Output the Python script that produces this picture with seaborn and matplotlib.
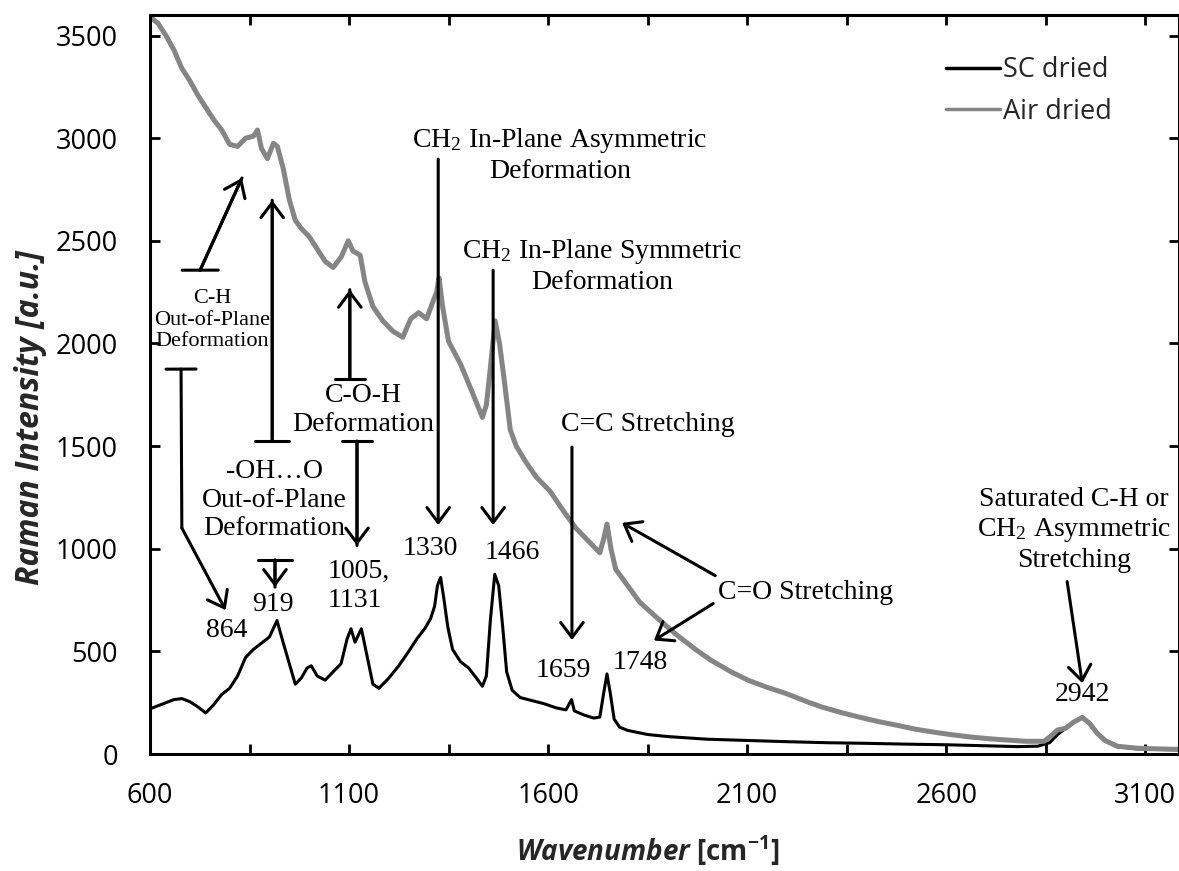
import matplotlib
matplotlib.use("Agg")
import matplotlib.pyplot as plt
import seaborn as sns
import pandas as pd
from matplotlib.ticker import FixedLocator

# ---------------- data ----------------
series_names = ["SC dried", "Air dried"]

sc_wavenumber = [600, 620, 640, 660, 680, 700, 720, 740, 760, 780, 800, 820, 840, 860, 880, 900,
                 919, 935, 950, 965, 980, 995, 1005, 1020, 1040, 1060, 1080, 1095, 1105, 1115, 1131,
                 1145, 1160, 1175, 1200, 1225, 1250, 1270, 1290, 1305, 1315, 1322, 1330, 1338, 1348,
                 1360, 1380, 1400, 1420, 1435, 1445, 1455, 1466, 1476, 1486, 1496, 1510, 1530, 1560,
                 1590, 1620, 1645, 1652, 1659, 1666, 1690, 1715, 1730, 1740, 1748, 1756, 1766, 1780,
                 1800, 1850, 1900, 2000, 2100, 2200, 2300, 2400, 2500, 2600, 2700, 2780, 2830, 2860,
                 2880, 2900, 2920, 2942, 2960, 2980, 3000, 3030, 3080, 3150, 3200]
sc_intensity = [220, 235, 250, 265, 270, 255, 230, 200, 240, 290, 320, 380, 470, 510, 540, 570,
                650, 540, 440, 340, 370, 420, 430, 380, 360, 400, 440, 560, 610, 545, 610,
                480, 340, 320, 370, 430, 500, 560, 610, 660, 720, 820, 860, 760, 620,
                510, 450, 420, 370, 330, 380, 650, 875, 820, 620, 400, 310, 275, 260,
                245, 225, 215, 240, 265, 210, 190, 175, 180, 300, 390, 300, 170, 130,
                115, 95, 85, 72, 66, 60, 55, 52, 48, 45, 40, 36, 38, 55,
                95, 125, 155, 180, 150, 100, 65, 35, 25, 22, 20]

air_wavenumber = [600, 620, 640, 660, 680, 700, 720, 740, 760, 780, 800, 820, 840, 860, 870, 880,
                  895, 910, 920, 935, 950, 965, 980, 1000, 1020, 1040, 1060, 1080, 1098, 1110, 1128,
                  1140, 1160, 1185, 1210, 1235, 1255, 1275, 1295, 1310, 1320, 1326, 1335, 1350, 1380,
                  1410, 1435, 1445, 1455, 1467, 1478, 1490, 1505, 1520, 1545, 1570, 1605, 1640, 1670,
                  1700, 1730, 1740, 1748, 1758, 1770, 1800, 1830, 1870, 1920, 1970, 2010, 2060, 2103,
                  2150, 2196, 2250, 2289, 2340, 2381, 2430, 2474, 2520, 2567, 2610, 2660, 2710, 2753,
                  2800, 2846, 2865, 2880, 2900, 2920, 2942, 2960, 2980, 3000, 3030, 3080, 3150, 3200]
air_intensity = [3590, 3560, 3500, 3430, 3340, 3280, 3210, 3150, 3090, 3040, 2970, 2960, 3000, 3010,
                 3040, 2950, 2900, 2975, 2960, 2850, 2700, 2600, 2560, 2520, 2460, 2400, 2370, 2420,
                 2500, 2450, 2430, 2300, 2180, 2110, 2060, 2030, 2120, 2150, 2120, 2200, 2250, 2320,
                 2180, 2010, 1900, 1760, 1640, 1700, 1880, 2110, 2000, 1820, 1580, 1500, 1420, 1350,
                 1280, 1180, 1100, 1040, 980, 1050, 1120, 1000, 900, 820, 740, 670, 585, 510, 456,
                 400, 359, 325, 296, 255, 228, 200, 180, 158, 141, 122, 107, 95, 83, 74, 68, 62, 62,
                 90, 117, 125, 155, 178, 150, 100, 65, 38, 28, 24, 22]

x_ticks = [600, 1100, 1600, 2100, 2600, 3100]
x_minor_ticks = [850, 1350, 1850, 2350, 2850]
y_ticks = [0, 500, 1000, 1500, 2000, 2500, 3000, 3500]

df = pd.concat([
    pd.DataFrame({"wn": sc_wavenumber, "I": sc_intensity, "series": series_names[0]}),
    pd.DataFrame({"wn": air_wavenumber, "I": air_intensity, "series": series_names[1]}),
])

# ---------------- style ----------------
sns.set_style("ticks")
plt.rcParams["font.family"] = ["Open Sans", "DejaVu Sans"]
plt.rcParams["mathtext.fontset"] = "custom"
plt.rcParams["mathtext.default"] = "regular"
plt.rcParams["mathtext.bfit"] = "Open Sans:italic:bold"

W, H = 1179, 871
fig = plt.figure(figsize=(W / 100, H / 100), dpi=100)
ax = fig.add_axes([150 / W, 117 / H, 1029 / W, 739 / H])

colors = {"SC dried": "black", "Air dried": "#858585"}
widths = {"SC dried": 2.2, "Air dried": 3.6}
for name in series_names:
    sub = df[df["series"] == name]
    sns.lineplot(data=sub, x="wn", y="I", color=colors[name], linewidth=widths[name],
                 label=name, sort=False, estimator=None, ax=ax)

ax.set_xlim(600, 3185)
ax.set_ylim(0, 3600)
ax.set_xticks(x_ticks)
ax.xaxis.set_minor_locator(FixedLocator(x_minor_ticks))
ax.set_yticks(y_ticks)
ax.tick_params(which="both", direction="in", top=True, right=True, length=7, width=2,
               labelsize=19.5, colors="black")
ax.tick_params(axis="x", which="both", pad=20)
ax.tick_params(axis="y", which="both", pad=23)
for sp in ax.spines.values():
    sp.set_linewidth(2.2)
    sp.set_color("black")

ax.set_ylabel("Raman Intensity [a.u.]", fontsize=23, fontweight="bold", fontstyle="italic")
ax.yaxis.set_label_coords(-0.100, 0.455)
ax.set_xlabel(r"$\mathbfit{Wavenumber}$ [cm$^{-1}$]", fontsize=20, fontweight="bold")
ax.xaxis.set_label_coords(0.484, -0.107)

leg = ax.legend(loc="upper left", bbox_to_anchor=(946 / W, 1 - 56 / H), bbox_transform=fig.transFigure,
                frameon=False, fontsize=19.5, handlelength=2.0, handletextpad=0.1,
                labelspacing=0.5, borderpad=0, borderaxespad=0)
for line in leg.get_lines():
    line.set_linewidth(2.5)

# ---------------- annotations ----------------
serif = ["Liberation Serif", "DejaVu Serif"]
FS = 20
MS = 27


def label(x, y, s, fs=FS, ha="center", ls=1.2):
    ax.text(x, y, s, fontsize=fs, family=serif, ha=ha, va="center", linespacing=ls, color="black")


def arrow(start, end, bar=None, angle=0, head=True):
    if head:
        ax.annotate("", xy=end, xytext=start,
                    arrowprops=dict(arrowstyle="->, head_length=0.4, head_width=0.3", color="black",
                                    lw=2.2, shrinkA=0, shrinkB=0, mutation_scale=MS))
    if bar is not None:
        ax.annotate("", xy=end, xytext=start,
                    arrowprops=dict(arrowstyle=f"]-, widthA={bar}, lengthA=0, angleA={angle}",
                                    color="black", lw=2.2, shrinkA=0, shrinkB=0, mutation_scale=MS))


label(1630, 2918, "CH$_2$ In-Plane Asymmetric\nDeformation")
arrow((1324, 2898), (1324, 1115))
label(1736, 2377, "CH$_2$ In-Plane Symmetric\nDeformation")
arrow((1462, 2357), (1462, 1115))
label(1851, 1603, "C=C Stretching")
arrow((1660, 1495), (1660, 555))

label(1303, 1003, "1330")
label(1510, 984, "1466")
label(1638, 409, "1659")
label(1831, 448, "1748")
label(909, 726, "919")
label(793, 604, "864")
label(1045, 818, "1005,\n1131", ha="left")
label(2942, 292, "2942")

label(2922, 1091, "Saturated C-H or\nCH$_2$ Asymmetric\nStretching")
arrow((2904, 840), (2942, 345))

label(2246, 789, "C=O Stretching")
arrow((2020, 869), (1786, 1126))
arrow((2015, 733), (1866, 553))

label(1135, 1676, "C-O-H\nDeformation")
arrow((1102, 1825), (1102, 2262), bar=0.4)
arrow((1120, 1524), (1120, 1015), bar=0.4)

label(756, 2114, "C-H\nOut-of-Plane\nDeformation", fs=16)
arrow((726, 2357), (831, 2806), bar=0.48, angle=24.5)
arrow((678, 1875), (680, 1101), bar=0.4, head=False)
arrow((680, 1101), (790, 701))

label(912, 1237, "-OH\u2026O\nOut-of-Plane\nDeformation")
arrow((907, 1524), (907, 2698), bar=0.46)
arrow((914, 945), (914, 813), bar=0.46)

fig.savefig("out.png", dpi=100)
